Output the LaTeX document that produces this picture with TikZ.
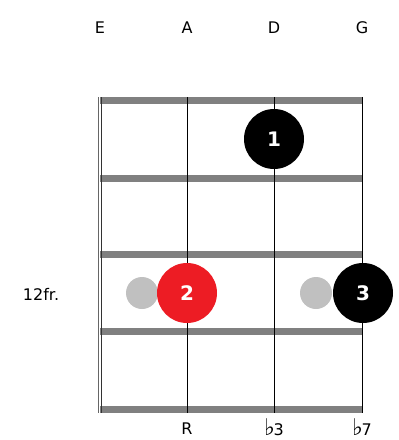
\documentclass[tikz,border=0pt]{standalone}
\usepackage{fontspec}
\setmainfont{DejaVu Sans}
\definecolor{fretgray}{RGB}{128,128,128}
\definecolor{dotred}{RGB}{237,28,36}
\definecolor{ghostgray}{RGB}{192,192,192}
\newcommand{\flatsign}{{\fontsize{23}{23}\selectfont ♭}\kern-1.5pt}
\tikzset{
  finger/.style={circle,fill=black,text=white,minimum size=60pt,inner sep=0pt,font=\fontsize{20}{20}\selectfont\bfseries},
  ghostdot/.style={circle,fill=ghostgray,minimum size=32pt,inner sep=0pt},
  lbl/.style={font=\fontsize{16}{16}\selectfont,inner sep=0pt}
}
\begin{document}
\begin{tikzpicture}[x=1pt,y=-1pt]
\useasboundingbox (0,0) rectangle (399,440);
\foreach \y in {100,178,254,331,409}{\fill[fretgray] (100,\y-3.5) rectangle (363,\y+3.5);}
\coordinate (etop) at (100,97); \coordinate (ebot) at (100,413);
\coordinate (atop) at (187,97); \coordinate (abot) at (187,413);
\coordinate (dtop) at (274,97); \coordinate (dbot) at (274,413);
\coordinate (gtop) at (362,97); \coordinate (gbot) at (362,413);
\foreach \s/\x in {E/100,A/187,D/274,G/362}{\node[lbl] at (\x,28) {\s};}
\draw[black!60,line width=0.8pt] ([xshift=-1.2pt]etop)--([xshift=-1.2pt]ebot);
\draw[black!80,line width=0.8pt] ([xshift=1.3pt]etop)--([xshift=1.3pt]ebot);
\draw[line width=0.9pt] (atop)--(abot) (dtop)--(dbot) (gtop)--(gbot);
\node[ghostdot] (g1) at (142,293) {};
\node[ghostdot] (g2) at (316,293) {};
\node[finger] (f1) at (274,139) {1};
\node[finger,fill=dotred] (f2) at (187,293) {2};
\node[finger] (f3) at (363,293) {3};
\node[lbl] (fret) at (41,294) {12fr.};
\node[lbl] (root) at (187,429) {R};
\node[lbl,anchor=base] (third) at (274,435) {\flatsign3};
\node[lbl,anchor=base] (seventh) at (362,435) {\flatsign7};
\end{tikzpicture}
\end{document}
